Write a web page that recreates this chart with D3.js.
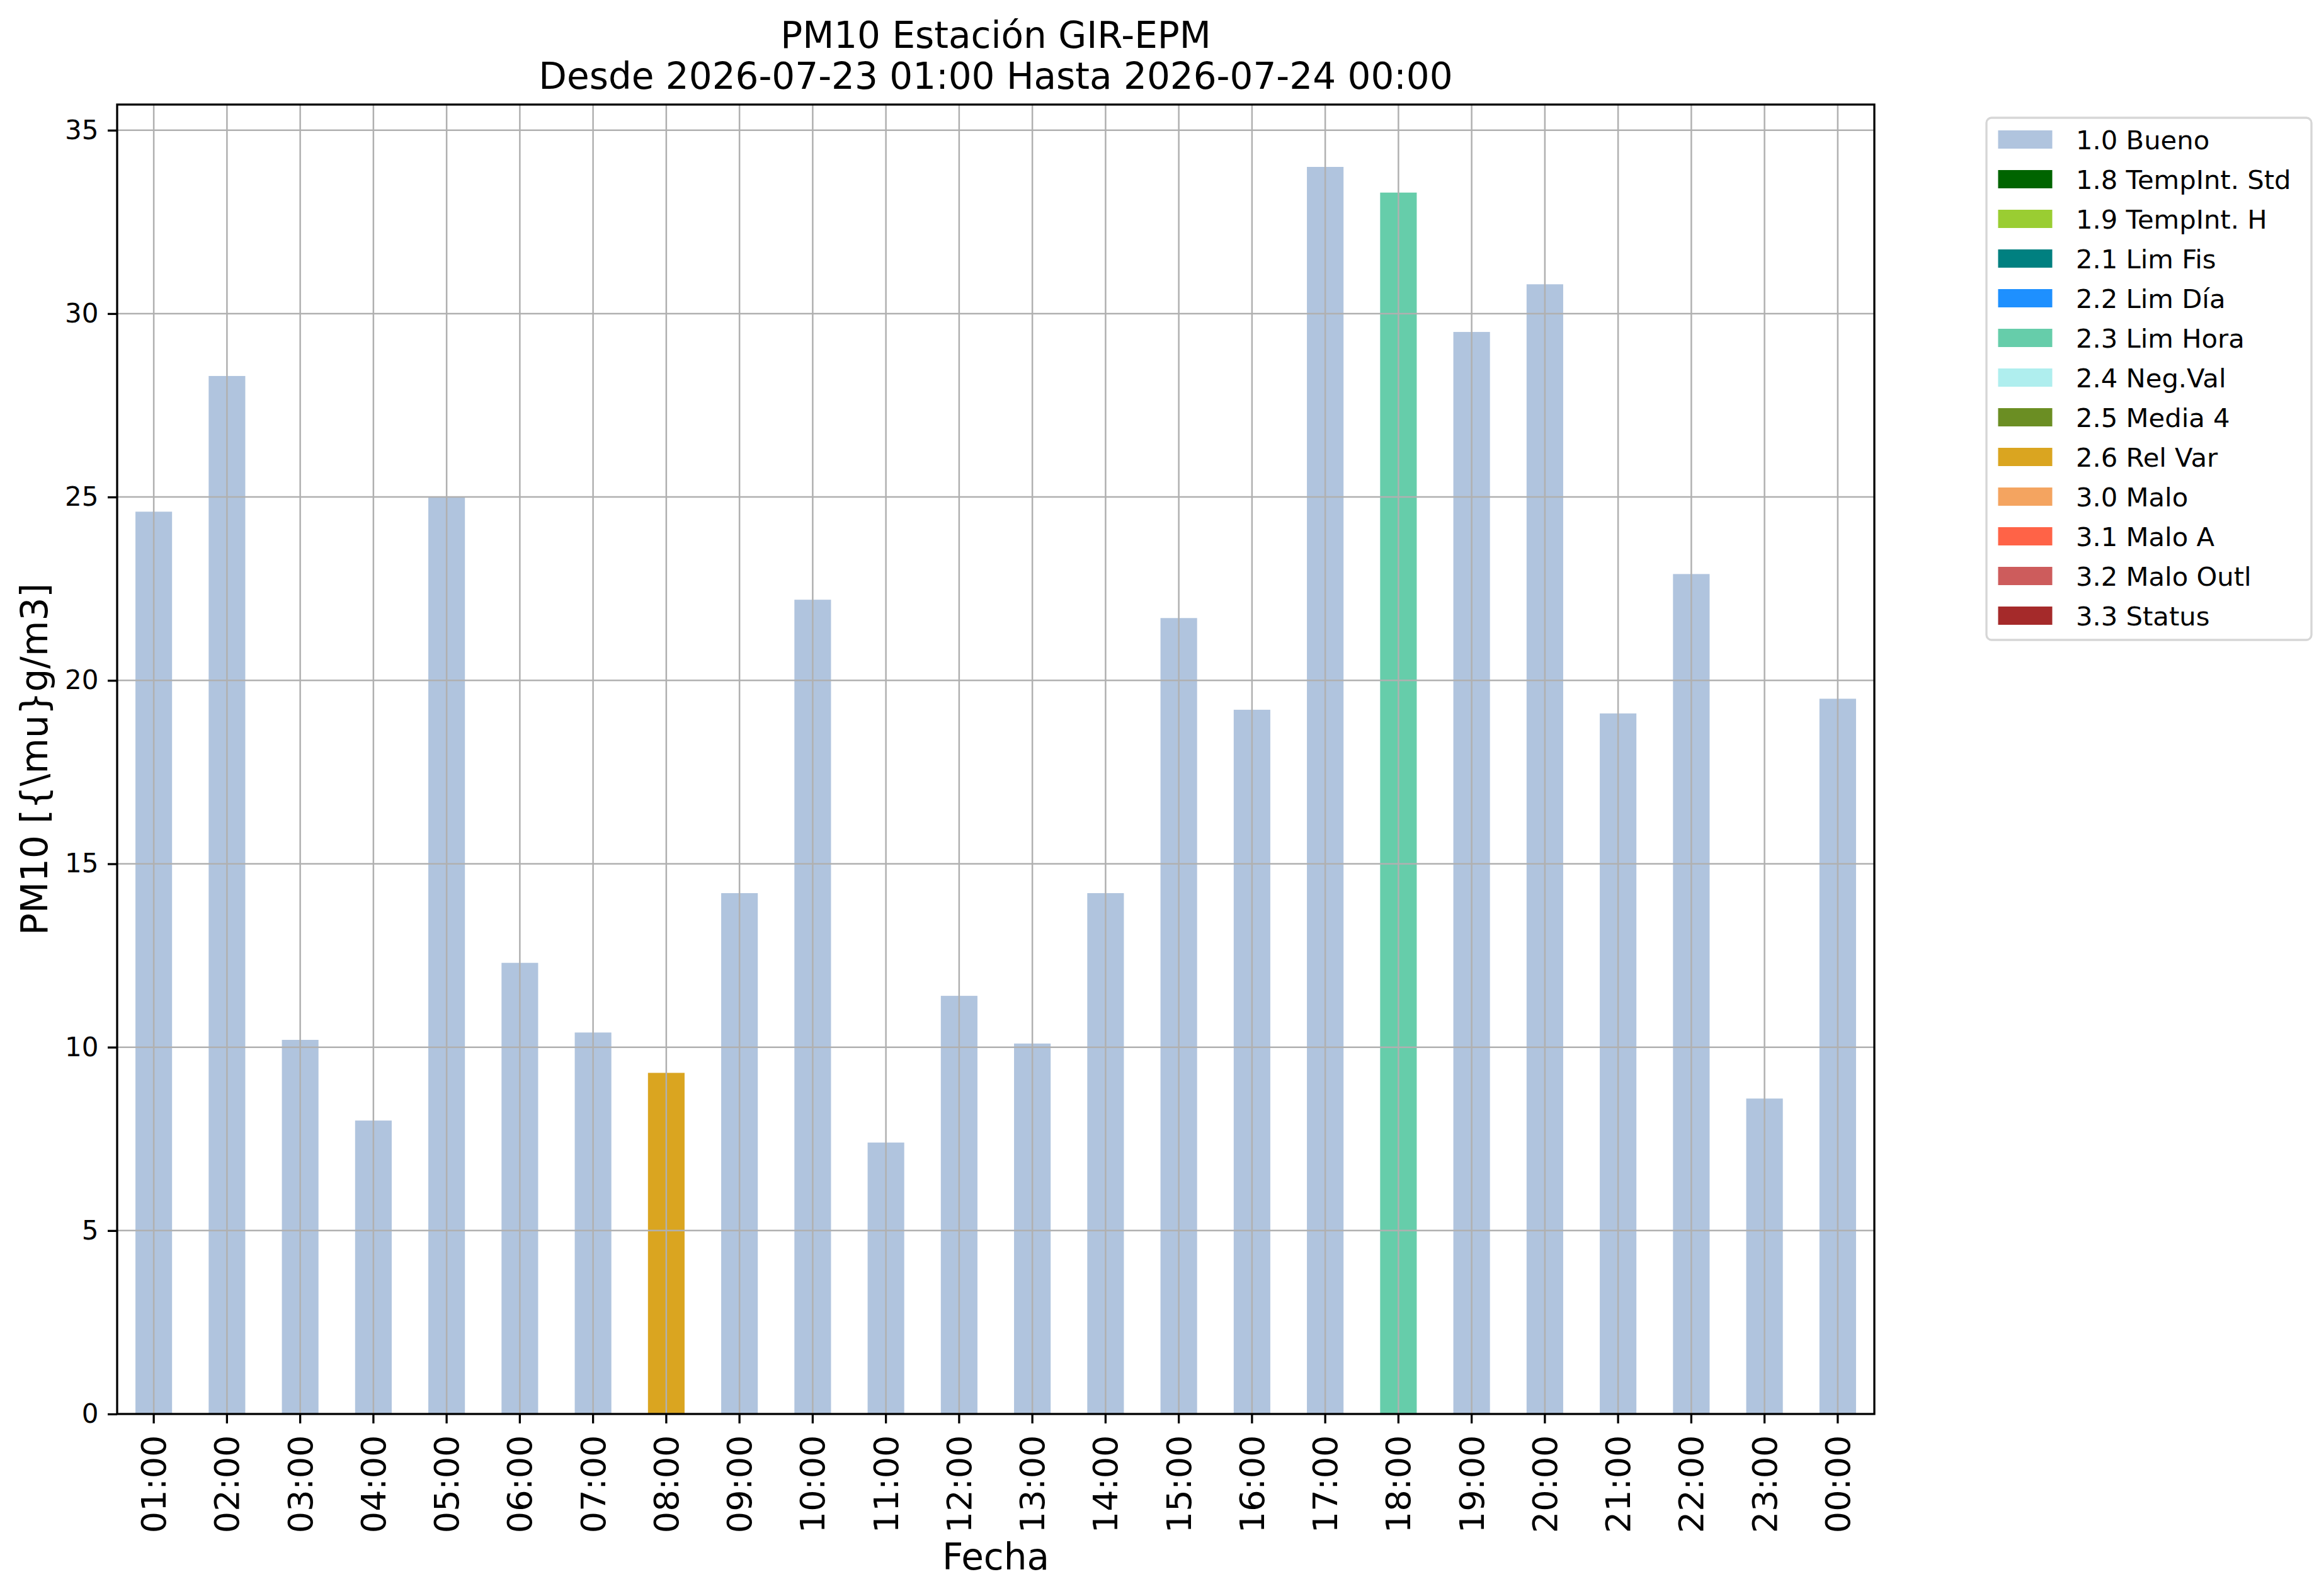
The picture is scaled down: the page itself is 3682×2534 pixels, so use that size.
<!DOCTYPE html>
<html>
<head>
<meta charset="utf-8">
<script src="https://cdn.jsdelivr.net/npm/d3@7"></script>
<style>
  html, body { margin: 0; padding: 0; background: #ffffff; }
  svg { display: block; font-family: "DejaVu Sans", sans-serif; }
</style>
</head>
<body>
<svg id="chart" width="3682" height="2534"></svg>
<script>
// ---------- DATA ----------
const hours = ["01:00","02:00","03:00","04:00","05:00","06:00","07:00","08:00",
               "09:00","10:00","11:00","12:00","13:00","14:00","15:00","16:00",
               "17:00","18:00","19:00","20:00","21:00","22:00","23:00","00:00"];
const pm10 = [24.6, 28.3, 10.2, 8.0, 25.0, 12.3, 10.4, 9.3,
              14.2, 22.2, 7.4, 11.4, 10.1, 14.2, 21.7, 19.2,
              34.0, 33.3, 29.5, 30.8, 19.1, 22.9, 8.6, 19.5];
const flags = ["1.0 Bueno","1.0 Bueno","1.0 Bueno","1.0 Bueno","1.0 Bueno","1.0 Bueno","1.0 Bueno","2.6 Rel Var",
               "1.0 Bueno","1.0 Bueno","1.0 Bueno","1.0 Bueno","1.0 Bueno","1.0 Bueno","1.0 Bueno","1.0 Bueno",
               "1.0 Bueno","2.3 Lim Hora","1.0 Bueno","1.0 Bueno","1.0 Bueno","1.0 Bueno","1.0 Bueno","1.0 Bueno"];
const legendLabels = ["1.0 Bueno","1.8 TempInt. Std","1.9 TempInt. H","2.1 Lim Fis","2.2 Lim Día",
                      "2.3 Lim Hora","2.4 Neg.Val","2.5 Media 4","2.6 Rel Var","3.0 Malo",
                      "3.1 Malo A","3.2 Malo Outl","3.3 Status"];
const legendColors = ["#B0C4DE","#006400","#9ACD32","#008080","#1E90FF",
                      "#66CDAA","#AFEEEE","#6B8E23","#DAA520","#F4A460",
                      "#FF6347","#CD5C5C","#A52A2A"];
const yTicks = [0, 5, 10, 15, 20, 25, 30, 35];
const titleLines = ["PM10 Estación GIR-EPM", "Desde 2026-07-23 01:00 Hasta 2026-07-24 00:00"];
const yLabel = "PM10 [{\\mu}g/m3]";
const xLabel = "Fecha";

// ---------- LAYOUT ----------
const W = 3682, H = 2534;
const ax = { left: 186, right: 2976, top: 166, bottom: 2245 };
const yMax = 35.7;
const tickLen = 15, tickPad = 14.6;

const svg = d3.select("#chart");
svg.append("rect").attr("width", W).attr("height", H).attr("fill", "#ffffff");

const x = d3.scaleBand().domain(hours).range([ax.left, ax.right])
  .paddingInner(0.5).paddingOuter(0.25);
const y = d3.scaleLinear().domain([0, yMax]).range([ax.bottom, ax.top]);
const color = d3.scaleOrdinal().domain(legendLabels).range(legendColors);

// Bars
svg.append("g").selectAll("rect").data(hours).join("rect")
  .attr("x", d => x(d))
  .attr("width", x.bandwidth())
  .attr("y", (d, i) => y(pm10[i]))
  .attr("height", (d, i) => y(0) - y(pm10[i]))
  .attr("fill", (d, i) => color(flags[i]));

// Grid (above bars)
const grid = svg.append("g").attr("stroke", "#b0b0b0").attr("stroke-width", 2.5);
grid.selectAll("line.v").data(hours).join("line").attr("class", "v")
  .attr("x1", d => x(d) + x.bandwidth() / 2).attr("x2", d => x(d) + x.bandwidth() / 2)
  .attr("y1", ax.top).attr("y2", ax.bottom);
grid.selectAll("line.h").data(yTicks).join("line").attr("class", "h")
  .attr("x1", ax.left).attr("x2", ax.right)
  .attr("y1", d => y(d)).attr("y2", d => y(d));

// Y axis
const yAxis = svg.append("g").attr("transform", `translate(${ax.left},0)`)
  .call(d3.axisLeft(y).tickValues(yTicks).tickSize(tickLen).tickPadding(tickPad).tickFormat(d3.format("d")));
yAxis.select(".domain").remove();
yAxis.selectAll(".tick line").attr("stroke", "#000").attr("stroke-width", 3.3);
yAxis.selectAll(".tick text").attr("font-size", 42).attr("fill", "#000")
  .attr("font-family", "DejaVu Sans");

// X axis
const xAxis = svg.append("g").attr("transform", `translate(0,${ax.bottom})`)
  .call(d3.axisBottom(x).tickSize(tickLen).tickPadding(tickPad));
xAxis.select(".domain").remove();
xAxis.selectAll(".tick line").attr("stroke", "#000").attr("stroke-width", 3.3);
xAxis.selectAll(".tick text")
  .attr("font-size", 54).attr("fill", "#000").attr("font-family", "DejaVu Sans")
  .attr("transform", "rotate(-90)")
  .attr("text-anchor", "end")
  .attr("x", -(tickLen + tickPad + 4))
  .attr("y", 0)
  .attr("dy", "0.35em");

// Spines
svg.append("rect")
  .attr("x", ax.left).attr("y", ax.top)
  .attr("width", ax.right - ax.left).attr("height", ax.bottom - ax.top)
  .attr("fill", "none").attr("stroke", "#000").attr("stroke-width", 3.3);

// Titles & labels
const cx = (ax.left + ax.right) / 2;
svg.append("text").attr("x", cx).attr("y", 76).attr("text-anchor", "middle")
  .attr("font-size", 58).text(titleLines[0]);
svg.append("text").attr("x", cx).attr("y", 141).attr("text-anchor", "middle")
  .attr("font-size", 58).text(titleLines[1]);
svg.append("text").attr("x", cx).attr("y", 2492).attr("text-anchor", "middle")
  .attr("font-size", 58).text(xLabel);
svg.append("text")
  .attr("transform", `translate(75,${(ax.top + ax.bottom) / 2}) rotate(-90)`)
  .attr("text-anchor", "middle").attr("font-size", 58).text(yLabel);

// Legend
const lg = svg.append("g");
lg.append("rect").attr("x", 3154).attr("y", 187).attr("width", 516).attr("height", 829)
  .attr("rx", 8).attr("ry", 8)
  .attr("fill", "#ffffff").attr("fill-opacity", 0.8)
  .attr("stroke", "#d6d6d6").attr("stroke-width", 3.3);
const rows = lg.selectAll("g.row").data(legendLabels).join("g").attr("class", "row")
  .attr("transform", (d, i) => `translate(0,${i * 63})`);
rows.append("rect").attr("x", 3172.5).attr("y", 207).attr("width", 86).attr("height", 29)
  .attr("fill", d => color(d));
rows.append("text").attr("x", 3296).attr("y", 237).attr("font-size", 41.7)
  .attr("fill", "#000").text(d => d);
</script>
</body>
</html>
